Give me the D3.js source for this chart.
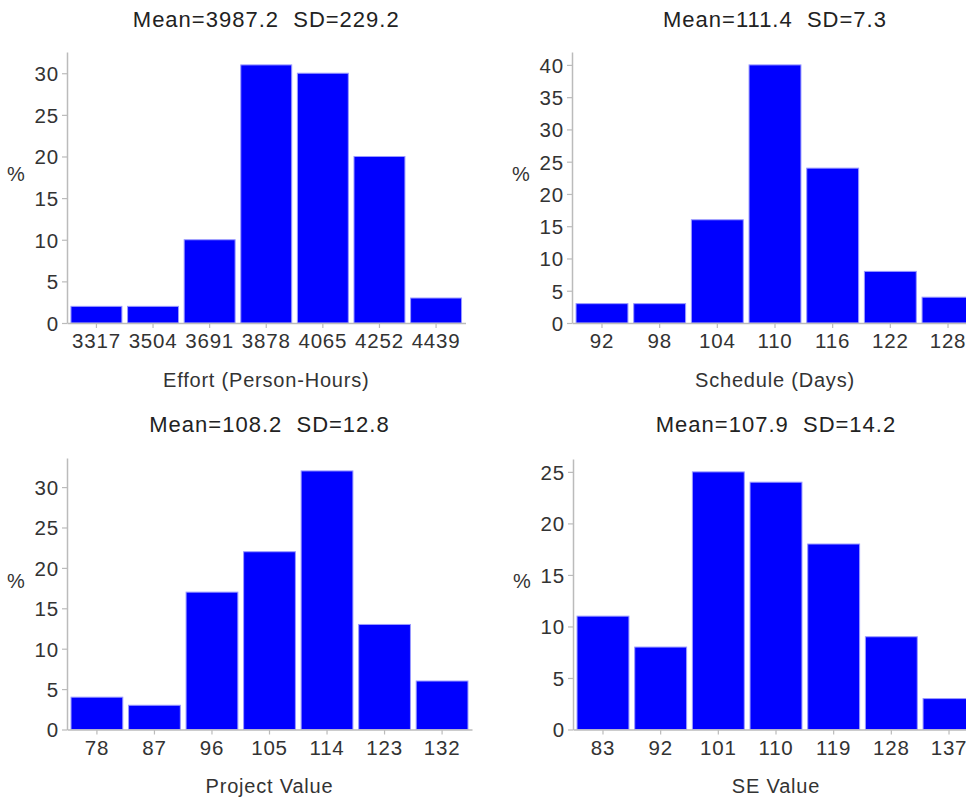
<!DOCTYPE html>
<html>
<head>
<meta charset="utf-8">
<script src="https://cdn.jsdelivr.net/npm/d3@7/dist/d3.min.js"></script>
<style>
  html, body { margin: 0; padding: 0; background: #fff; }
  svg { display: block; font-family: "Liberation Sans", Arial, Helvetica, sans-serif; }
</style>
</head>
<body>
<svg id="chart" width="966" height="798"></svg>
<script>
// ---- Data ----
const effortBins = ["3317", "3504", "3691", "3878", "4065", "4252", "4439"];
const effortPct = [2, 2, 10, 31, 30, 20, 3];
const effortTitle = "Mean=3987.2  SD=229.2";
const effortLabel = "Effort (Person-Hours)";

const scheduleBins = ["92", "98", "104", "110", "116", "122", "128"];
const schedulePct = [3, 3, 16, 40, 24, 8, 4];
const scheduleTitle = "Mean=111.4  SD=7.3";
const scheduleLabel = "Schedule (Days)";

const projectBins = ["78", "87", "96", "105", "114", "123", "132"];
const projectPct = [4, 3, 17, 22, 32, 13, 6];
const projectTitle = "Mean=108.2  SD=12.8";
const projectLabel = "Project Value";

const seBins = ["83", "92", "101", "110", "119", "128", "137"];
const sePct = [11, 8, 25, 24, 18, 9, 3];
const seTitle = "Mean=107.9  SD=14.2";
const seLabel = "SE Value";

const yTickStep = 5;
const yLabel = "%";

// ---- Layout ----
const panels = [
  { bins: effortBins, pct: effortPct, title: effortTitle, label: effortLabel,
    x0: 67, x1: 465.5, top: 52, base: 323, titleY: 27, labelY: 387, pctY: 181 },
  { bins: scheduleBins, pct: schedulePct, title: scheduleTitle, label: scheduleLabel,
    x0: 572, x1: 978, top: 52, base: 323, titleY: 27, labelY: 387, pctY: 181 },
  { bins: projectBins, pct: projectPct, title: projectTitle, label: projectLabel,
    x0: 67, x1: 472, top: 458, base: 729.5, titleY: 432, labelY: 793, pctY: 588 },
  { bins: seBins, pct: sePct, title: seTitle, label: seLabel,
    x0: 573, x1: 979, top: 459, base: 729.5, titleY: 432, labelY: 793, pctY: 588 }
];

const svg = d3.select("#chart");
const textColor = "#333";
const axisColor = "#bbb";

panels.forEach(p => {
  const g = svg.append("g");
  const x = d3.scaleBand().domain(p.bins).range([p.x0, p.x1])
    .paddingInner(0.1).paddingOuter(0.07);
  const ymax = d3.max(p.pct) * 1.05;
  const y = d3.scaleLinear().domain([0, ymax]).range([p.base, p.top]);

  // bars
  g.selectAll("rect.bar").data(p.pct).join("rect")
    .attr("class", "bar")
    .attr("x", (d, i) => x(p.bins[i]))
    .attr("y", d => y(d))
    .attr("width", x.bandwidth())
    .attr("height", d => y(0) - y(d))
    .attr("fill", "#0000ff")
    .attr("stroke", "#9a9aff")
    .attr("stroke-width", 1);

  // y axis
  const yTicks = d3.range(0, ymax + 0.001, yTickStep);
  const ya = g.append("g").attr("transform", `translate(${p.x0},0)`)
    .call(d3.axisLeft(y).tickValues(yTicks).tickSize(5).tickPadding(3).tickSizeOuter(0));
  ya.select(".domain").attr("stroke", axisColor).attr("stroke-width", 1.5);
  ya.selectAll(".tick line").attr("stroke", axisColor).attr("stroke-width", 1.2);
  ya.selectAll(".tick text").attr("fill", textColor)
    .style("font-size", "20.5px").style("letter-spacing", "0.8px")
    .attr("dy", "0.36em");

  // x axis
  const xa = g.append("g").attr("transform", `translate(0,${p.base})`)
    .call(d3.axisBottom(x).tickSize(5).tickPadding(4).tickSizeOuter(0));
  xa.select(".domain").attr("stroke", axisColor).attr("stroke-width", 1.5);
  xa.selectAll(".tick line").attr("stroke", axisColor).attr("stroke-width", 1.2);
  xa.selectAll(".tick text").attr("fill", textColor)
    .style("font-size", "20.5px").style("letter-spacing", "0.8px")
    .attr("dy", "0.8em");

  const cx = (p.x0 + p.x1) / 2;
  g.append("text").attr("x", cx).attr("y", p.titleY)
    .attr("text-anchor", "middle").attr("fill", "#222")
    .style("font-size", "22px").style("letter-spacing", "1px").style("white-space", "pre")
    .text(p.title);
  g.append("text").attr("x", cx).attr("y", p.labelY)
    .attr("text-anchor", "middle").attr("fill", textColor)
    .style("font-size", "20px").style("letter-spacing", "0.8px")
    .text(p.label);
  g.append("text").attr("x", p.x0 - 51).attr("y", p.pctY)
    .attr("text-anchor", "middle").attr("fill", textColor).style("font-size", "20px")
    .text(yLabel);
});
</script>
</body>
</html>
